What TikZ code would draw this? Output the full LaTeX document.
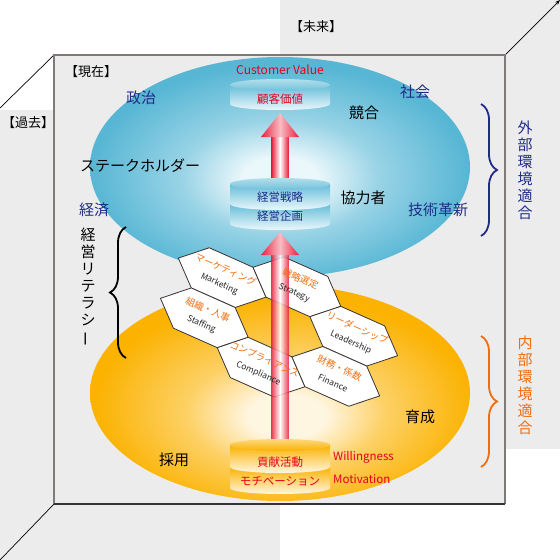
\documentclass[tikz,border=0pt]{standalone}
\usepackage{fontspec}
\setmainfont{Noto Sans CJK JP}
\usepackage{xcolor}
\usepackage{tikz}
\usetikzlibrary{arrows.meta,decorations.pathreplacing}

\definecolor{wallgray}{HTML}{ECECEC}
\definecolor{edgegray}{HTML}{7E7A78}
\definecolor{navytxt}{HTML}{1F2C86}
\definecolor{hexorange}{HTML}{EE6E12}
\definecolor{redtxt}{HTML}{E50020}
\definecolor{arrowred}{HTML}{E8203C}
\definecolor{hexline}{HTML}{3A3430}
\definecolor{skyD}{HTML}{56B6D4}
\definecolor{skyL}{HTML}{EAF7FB}
\definecolor{goldD}{HTML}{FBB200}
\definecolor{goldL}{HTML}{FFF6E2}

\pgfdeclareradialshading{skyball}{\pgfpoint{0bp}{-3bp}}{color(0bp)=(skyL); color(5bp)=(skyL); color(13bp)=(skyL!45!skyD); color(25bp)=(skyD); color(50bp)=(skyD)}
\pgfdeclareradialshading{goldball}{\pgfpoint{1bp}{-6bp}}{color(0bp)=(goldL); color(5bp)=(goldL); color(13bp)=(goldL!45!goldD); color(25bp)=(goldD); color(50bp)=(goldD)}

\begin{document}
\begin{tikzpicture}[x=1pt,y=-1pt,
  every node/.style={inner sep=0pt},
  big/.style={font=\fontsize{15}{17}\selectfont},
  corner/.style={font=\fontsize{13}{15}\selectfont},
  cyl/.style={font=\fontsize{11.5}{13}\selectfont},
  vtxt/.style={font=\fontsize{15}{17}\selectfont,align=center},
  hexjp/.style={font=\fontsize{9.5}{10}\selectfont,text=hexorange,rotate=-24},
  hexen/.style={font=\fontsize{8.5}{9}\selectfont,text=black!85,rotate=-24},
  hexcell/.style={fill=white,draw=hexline,line width=0.8pt,line join=round},
  shaft/.style={left color=arrowred,right color=arrowred,middle color=white},
  head/.style={left color=arrowred,right color=arrowred,middle color=arrowred!30},
  wrap/.style={decorate,line width=1.8pt,decoration={brace,amplitude=16pt}}]
 % room
 \fill[wallgray] (0,0) rectangle (560,560);
 \fill[white] (0,0) rectangle (280,55);
 \fill[white] (0,0) rectangle (54,110);
 \fill[white] (280,504) rectangle (560,560);
 \fill[white] (505,449) rectangle (560,560);
 \useasboundingbox (0,0) rectangle (560,560);
 \draw[line width=0.7pt] (0,108) -- (54,55);
 \draw[line width=0.7pt] (0,560) -- (54,504);
 \draw[line width=0.7pt,-{Stealth[length=5pt]}] (505,55) -- (560,0);
 \draw[edgegray,line width=1.6pt] (54,504) -- (54,55) -- (505,55) -- (505,504);
 \draw[black!80,line width=1.4pt] (54,504) -- (505,504);
 % two fields
 \shade[shading=skyball] (280,167) ellipse (190 and 110);
 \shade[shading=goldball] (280,393) ellipse (190 and 108);
 % skills
 \begin{scope}[shift={(279,327)},rotate=-24]
  \foreach \dx/\dy in {-72/-22, 0/-44, -72/22, 72/-22, 0/44, 72/22}
   \draw[hexcell] (\dx-48,\dy) -- (\dx-24,\dy-22) -- (\dx+24,\dy-22) -- (\dx+48,\dy)
     -- (\dx+24,\dy+22) -- (\dx-24,\dy+22) -- cycle;
 \end{scope}
 % arrows
 \shade[shaft] (271.5,184) rectangle (288.5,136);
 \shade[head] (261,137) -- (280,113) -- (299,137) -- cycle;
 \shade[shaft,opacity=0.85] (271.5,447) rectangle (288.5,254);
 \shade[head] (261,255) -- (280,232) -- (299,255) -- cycle;
 \begin{scope}[shift={(279,327)},rotate=-24]
  \foreach \dx/\dy/\nm/\jp/\en in {-72/-22/mkt/マーケティング/Marketing, 0/-44/strat/戦略選定/Strategy,
     -72/22/staff/組織・人事/Staffing, 72/-22/lead/リーダーシップ/Leadership,
     0/44/comp/コンプライアンス/Compliance, 72/22/fin/財務・係数/Finance}{
   \node[hexjp] (\nm-jp) at (\dx,\dy-9) {\jp};
   \node[hexen] (\nm-en) at (\dx,\dy+7) {\en};
  }
 \end{scope}
 % cylinders
 \shade[top color=skyD!90,bottom color=skyL] (230,85) -- (230,104) arc[start angle=180,end angle=0,x radius=50,y radius=6] -- (330,85) -- cycle;
 \shade[top color=skyD!45,bottom color=skyD!85] (280,85) ellipse (50 and 6);
 \shade[top color=skyD!90,bottom color=skyL] (230,204) -- (230,224) arc[start angle=180,end angle=0,x radius=50,y radius=6] -- (330,204) -- cycle;
 \shade[top color=skyD!90,bottom color=skyL] (230,184) -- (230,204) arc[start angle=180,end angle=0,x radius=50,y radius=6] -- (330,184) -- cycle;
 \shade[top color=skyD!45,bottom color=skyD!85] (280,184) ellipse (50 and 6);
 \shade[top color=goldD,bottom color=goldL] (230,467) -- (230,488) arc[start angle=180,end angle=0,x radius=50,y radius=6] -- (330,467) -- cycle;
 \shade[top color=goldD,bottom color=goldL] (230,445) -- (230,467) arc[start angle=180,end angle=0,x radius=50,y radius=6] -- (330,445) -- cycle;
 \shade[top color=goldD!50,bottom color=goldD] (280,445) ellipse (50 and 6);
 \node[cyl,text=redtxt] (kokyaku) at (280,99) {顧客価値};
 \node[cyl,text=redtxt,font=\fontsize{12}{14}\selectfont] (cvalue) at (280,70) {Customer Value};
 \node[cyl,text=navytxt] (senryaku) at (280,197) {経営戦略};
 \node[cyl,text=navytxt] (kikaku) at (280,216) {経営企画};
 \node[cyl,text=redtxt] (koken) at (280,462) {貢献活動};
 \node[cyl,text=redtxt] (motive) at (280,481) {モチベーション};
 \node[cyl,text=redtxt,anchor=west] (will) at (333,457) {Willingness};
 \node[cyl,text=redtxt,anchor=west] (motiv) at (333,479) {Motivation};
 % labels
 \node[corner] (kako) at (28,123) {【過去】};
 \node[corner] (genzai) at (91,72) {【現在】};
 \node[corner] (mirai) at (316,27) {【未来】};
 \node[big,text=navytxt] (seiji) at (141,98) {政治};
 \node[big,text=navytxt] (shakai) at (415,92) {社会};
 \node[big] (kyogo) at (364,113) {競合};
 \node[big] (stake) at (140,166) {ステークホルダー};
 \node[big] (kyoryoku) at (363,198) {協力者};
 \node[big,text=navytxt] (keizai) at (94,210) {経済};
 \node[big,text=navytxt] (gijutsu) at (438,210) {技術革新};
 \node[big] (ikusei) at (420,417) {育成};
 \node[big] (saiyo) at (174,460) {採用};
 % side words
 \node[vtxt,text=navytxt] (gaibu) at (525,170) {外\\部\\環\\境\\適\\合};
 \node[vtxt,text=hexorange] (naibu) at (525,385) {内\\部\\環\\境\\適\\合};
 \node[vtxt] (literacy) at (88,287) {経\\営\\リ\\テ\\ラ\\シ\\\rotatebox[origin=c]{90}{ー}};
 \draw[wrap,draw=black] (126,358) -- (126,227);
 \draw[wrap,draw=navytxt] (481,104) -- (481,236);
 \draw[wrap,draw=hexorange] (481,336) -- (481,467);
\end{tikzpicture}
\end{document}
